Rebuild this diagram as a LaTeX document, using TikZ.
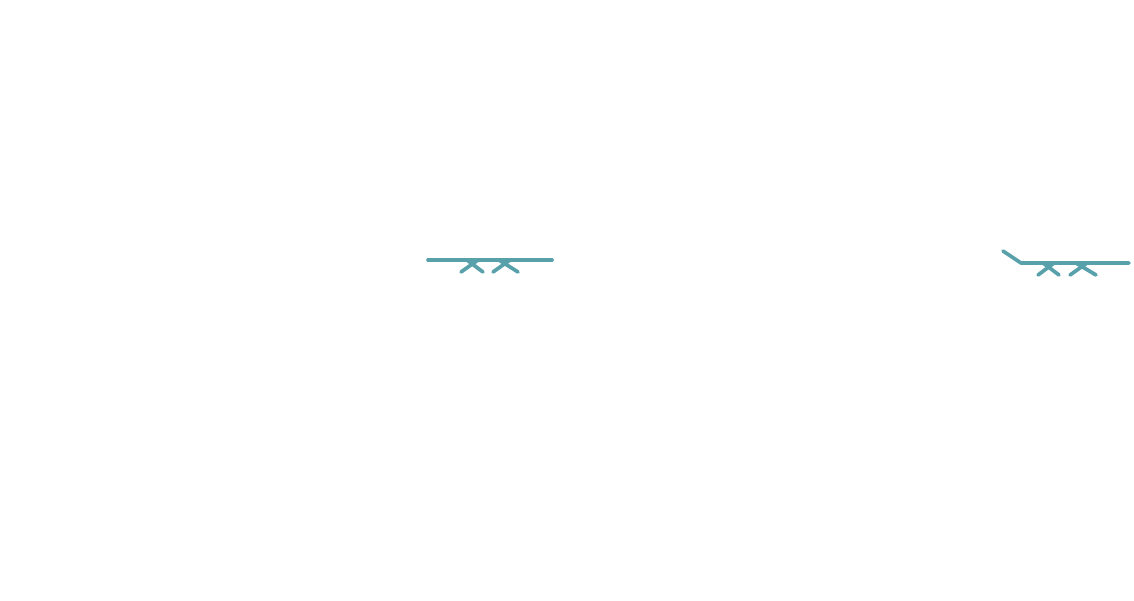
\documentclass[tikz,border=0pt]{standalone}
\definecolor{lounger}{RGB}{88,161,171}
\begin{document}
\begin{tikzpicture}[x=1pt,y=-1pt,
  chair/.style={draw=lounger,line width=3.7pt,line cap=round,line join=round}]
\useasboundingbox (0,0) rectangle (1134,600);
% left lounger (flat)
\draw[chair] (428,260) -- (552,260);
\draw[chair] (461,272) -- (478,260);
\draw[chair] (467,260) -- (483,272);
\draw[chair] (493,272) -- (510,260);
\draw[chair] (499,260) -- (518,272);
% right lounger (with back rest)
\draw[chair] (1003,251) -- (1021,263) -- (1129,263);
\draw[chair] (1038,275) -- (1054,263);
\draw[chair] (1043,263) -- (1059,275);
\draw[chair] (1070,275) -- (1087,263);
\draw[chair] (1076,263) -- (1096,275);
\end{tikzpicture}
\end{document}
